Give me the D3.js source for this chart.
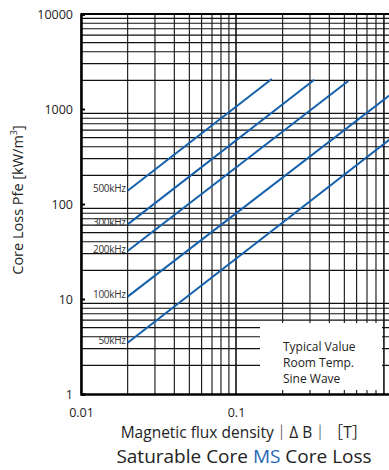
<!DOCTYPE html>
<html><head><meta charset="utf-8">
<script src="https://cdn.jsdelivr.net/npm/d3@7"></script>
<style>
html,body{margin:0;padding:0;background:#fff;}
svg{display:block;font-family:"Open Sans","Noto Sans CJK JP",sans-serif;}
</style></head>
<body>
<svg id="c" width="389" height="470"></svg>
<script>
// ---- data ----
const freqLabels = ["50kHz", "100kHz", "200kHz", "300kHz", "500kHz"];
const bStart = [0.02, 0.02, 0.02, 0.02, 0.02];
const pStart = [3.47, 10.6, 32, 61, 138];
const bEnd = [1.0, 1.0, 0.53, 0.32, 0.17];
const pEnd = [490, 1435, 1970, 2035, 2070];
const xTicks = [0.01, 0.1];
const yTicks = [1, 10, 100, 1000, 10000];
const noteLines = ["Typical Value", "Room Temp.", "Sine Wave"];

const svg = d3.select("#c");
const L = 81, R = 391, T = 14, B = 394;
const x = d3.scaleLog().domain([0.01, 1]).range([L, R]);
const y = d3.scaleLog().domain([1, 10000]).range([B, T]);

// grid values
const xGrid = [], yGrid = [];
for (let d = 0.01; d < 1; d *= 10) for (let k = 1; k <= 10; k++) xGrid.push(+(d * k).toPrecision(3));
for (let d = 1; d < 10000; d *= 10) for (let k = 2; k <= 9; k++) yGrid.push(d * k);

const g = svg.append("g");
g.selectAll("line.vg").data(xGrid).join("line").attr("class", "vg")
  .attr("x1", d => x(d)).attr("x2", d => x(d)).attr("y1", T).attr("y2", B)
  .attr("stroke", "#111").attr("stroke-width", 1.1);
g.selectAll("line.hg").data(yGrid).join("line").attr("class", "hg")
  .attr("x1", L).attr("x2", R).attr("y1", d => y(d)).attr("y2", d => y(d))
  .attr("stroke", "#111").attr("stroke-width", 1.1);

// note box (covers grid)
svg.append("rect").attr("x", 260).attr("y", 323).attr("width", 122).attr("height", 67).attr("fill", "#fff");
svg.append("line").attr("x1", x(0.9)).attr("x2", x(0.9)).attr("y1", T).attr("y2", B)
  .attr("stroke", "#111").attr("stroke-width", 1.1);
svg.selectAll("text.note").data(noteLines).join("text").attr("class", "note")
  .attr("x", 283).attr("y", (d, i) => 350.5 + i * 16)
  .attr("font-size", 12).attr("fill", "#222").text(d => d);

// top border
svg.append("line").attr("x1", L).attr("x2", R).attr("y1", T).attr("y2", T).attr("stroke", "#000").attr("stroke-width", 2);

// axes
const ya = d3.axisLeft(y).tickValues(yTicks).tickFormat(d3.format("d")).tickSize(-4).tickPadding(8);
const yg = svg.append("g").attr("transform", `translate(${L},0)`).call(ya);
yg.select(".domain").attr("stroke", "#000").attr("stroke-width", 2.5);
yg.selectAll(".tick line").attr("stroke", "#000").attr("stroke-width", 2);
yg.selectAll(".tick text").attr("font-size", 12.5).attr("fill", "#222").attr("font-family", "Open Sans");

const xa = d3.axisBottom(x).tickValues(xTicks).tickFormat(d => String(d)).tickSize(0).tickPadding(14);
const xg = svg.append("g").attr("transform", `translate(0,${B})`).call(xa);
xg.select(".domain").attr("stroke", "#000").attr("stroke-width", 2.5);
xg.selectAll(".tick text").attr("font-size", 12.5).attr("fill", "#222").attr("font-family", "Open Sans");

// series
svg.append("clipPath").attr("id", "pc").append("rect").attr("x", L).attr("y", T).attr("width", R - L).attr("height", B - T);
const series = freqLabels.map((f, i) => ({ f, pts: [[bStart[i], pStart[i]], [bEnd[i], pEnd[i]]] }));
const line = d3.line().x(d => x(d[0])).y(d => y(d[1]));
svg.append("g").attr("clip-path", "url(#pc)").selectAll("path").data(series).join("path")
  .attr("d", d => line(d.pts)).attr("fill", "none").attr("stroke", "#1560ad").attr("stroke-width", 2);
svg.selectAll("text.sl").data(series).join("text").attr("class", "sl")
  .attr("x", d => x(d.pts[0][0]) - 2).attr("y", d => y(d.pts[0][1]) + 1.5)
  .attr("text-anchor", "end").attr("font-size", 10).attr("fill", "#333")
  .attr("letter-spacing", -0.3).text(d => d.f);

// axis titles
const yl = svg.append("text").attr("transform", "translate(23,200) rotate(-90)")
  .attr("text-anchor", "middle").attr("font-size", 14.5).attr("fill", "#222");
yl.append("tspan").text("Core Loss Pfe [kW/m");
yl.append("tspan").attr("font-size", 9).attr("dy", -6).text("3");
yl.append("tspan").attr("dy", 6).text("]");

svg.append("text").attr("x", 244).attr("y", 438).attr("text-anchor", "middle")
  .attr("font-size", 15.5).attr("fill", "#222").text("Magnetic flux density｜Δ B｜［T］");

const tt = svg.append("text").attr("x", 244).attr("y", 463).attr("text-anchor", "middle")
  .attr("font-size", 19).attr("fill", "#222");
tt.append("tspan").text("Saturable Core ");
tt.append("tspan").attr("fill", "#1f67b5").text("MS");
tt.append("tspan").text(" Core Loss");
</script>
</body></html>
